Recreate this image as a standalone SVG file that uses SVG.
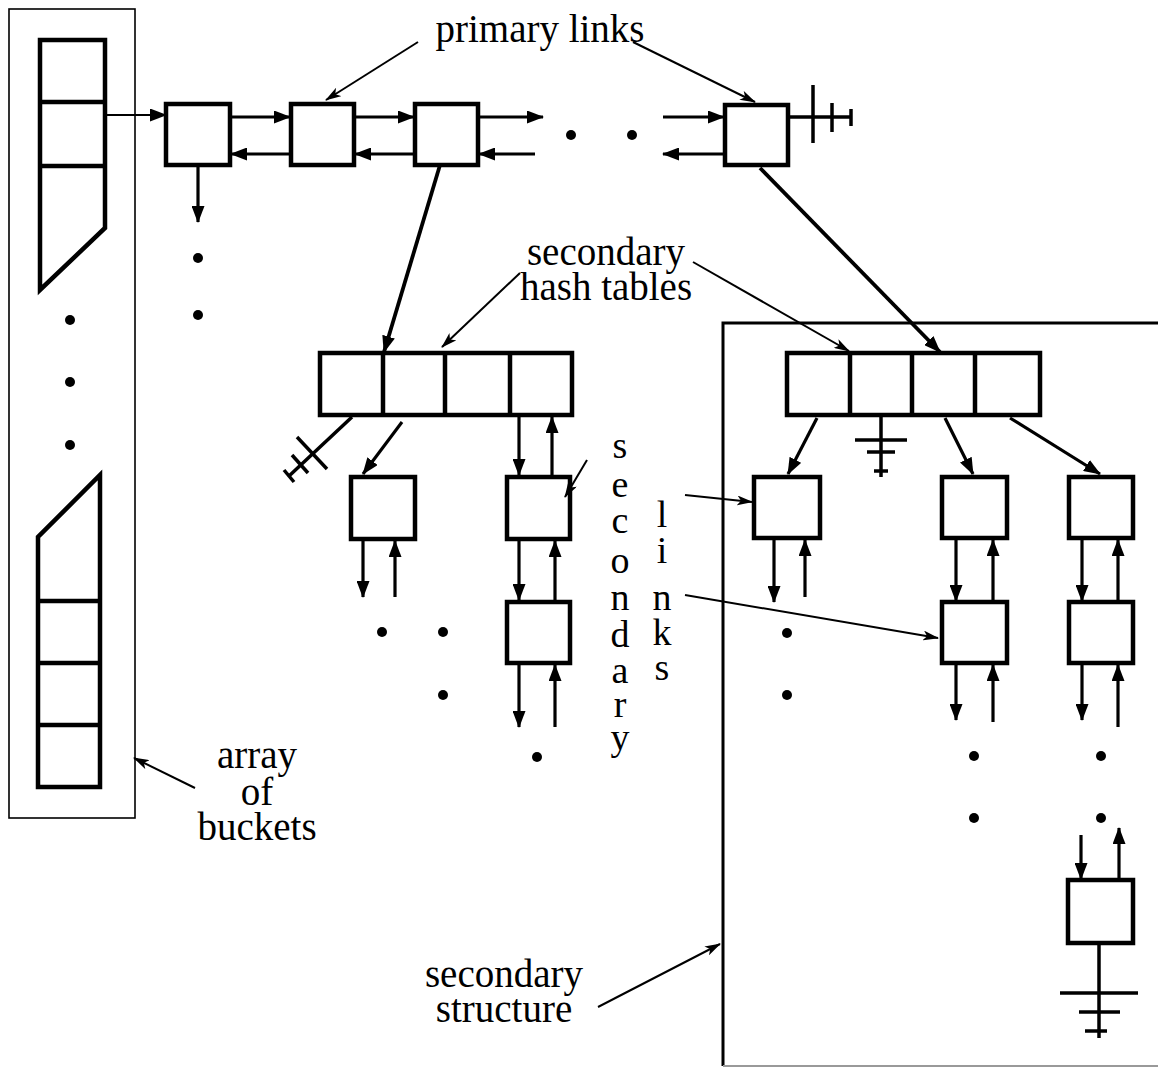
<svg xmlns="http://www.w3.org/2000/svg" width="1158" height="1067" viewBox="0 0 1158 1067">
<style>
.box{fill:#fff;stroke:#000;stroke-width:4.5}
.cell{stroke:#000;stroke-width:4.5;fill:none}
.arr{stroke:#000;stroke-width:3.2;fill:none;marker-end:url(#ah)}
.thin{stroke:#000;stroke-width:2;fill:none;marker-end:url(#lh)}
.ln{stroke:#000;stroke-width:3.5;fill:none}
.dot{fill:#000}
.lbl{font-family:"Liberation Serif","Times New Roman",serif;font-size:39px;fill:#000;text-anchor:middle}
.vl{font-family:"Liberation Serif","Times New Roman",serif;font-size:38px;fill:#000;text-anchor:middle}
</style>
<defs>
<marker id="ah" markerUnits="userSpaceOnUse" markerWidth="17" markerHeight="13" refX="16" refY="6.5" orient="auto">
<path d="M0,0 L17,6.5 L0,13 z" fill="#000"/>
</marker>
<marker id="lh" markerUnits="userSpaceOnUse" markerWidth="16" markerHeight="10" refX="15" refY="5" orient="auto">
<path d="M0,0 L16,5 L0,10 L4,5 z" fill="#000"/>
</marker>
</defs>
<rect width="1158" height="1067" fill="#fff"/>

<g id="array-of-buckets">
<rect x="9" y="9" width="126" height="809" fill="none" stroke="#000" stroke-width="1.6"/>
<path class="cell" d="M40,40 H105 V228 L40,290 Z"/>
<line class="cell" x1="40" y1="102" x2="105" y2="102"/>
<line class="cell" x1="40" y1="166" x2="105" y2="166"/>
<path class="cell" d="M100,475 V787 H38 V537 Z"/>
<line class="cell" x1="38" y1="601" x2="100" y2="601"/>
<line class="cell" x1="38" y1="663" x2="100" y2="663"/>
<line class="cell" x1="38" y1="725" x2="100" y2="725"/>
<circle class="dot" cx="70" cy="320" r="5"/>
<circle class="dot" cx="70" cy="382" r="5"/>
<circle class="dot" cx="70" cy="445" r="5"/>
</g>

<g id="p1"><rect class="box" x="166" y="104" width="64" height="61"/></g>
<g id="p2"><rect class="box" x="291" y="104" width="63" height="61"/></g>
<g id="p3"><rect class="box" x="415" y="104" width="63" height="61"/></g>
<g id="p4"><rect class="box" x="725" y="105" width="63" height="60"/></g>

<g id="hash1">
<rect class="box" x="320" y="353" width="252" height="62"/>
<line class="cell" x1="383" y1="353" x2="383" y2="415"/>
<line class="cell" x1="445" y1="353" x2="445" y2="415"/>
<line class="cell" x1="510" y1="353" x2="510" y2="415"/>
</g>
<g id="hash2">
<rect class="box" x="787" y="353" width="253" height="62"/>
<line class="cell" x1="850" y1="353" x2="850" y2="415"/>
<line class="cell" x1="912" y1="353" x2="912" y2="415"/>
<line class="cell" x1="975" y1="353" x2="975" y2="415"/>
</g>

<g id="nA"><rect class="box" x="351" y="477" width="64" height="62"/></g>
<g id="nB"><rect class="box" x="507" y="477" width="63" height="62"/></g>
<g id="nC"><rect class="box" x="507" y="602" width="63" height="61"/></g>
<g id="nD"><rect class="box" x="754" y="477" width="66" height="61"/></g>
<g id="nE"><rect class="box" x="942" y="477" width="65" height="61"/></g>
<g id="nF"><rect class="box" x="942" y="602" width="65" height="61"/></g>
<g id="nG"><rect class="box" x="1069" y="477" width="64" height="61"/></g>
<g id="nH"><rect class="box" x="1069" y="602" width="64" height="61"/></g>
<g id="nI"><rect class="box" x="1068" y="880" width="65" height="63"/></g>

<g id="secondary-structure">
<path d="M1158,323 H723 V1066" fill="none" stroke="#000" stroke-width="3"/>
<line x1="723" y1="1066" x2="1158" y2="1066" stroke="#999" stroke-width="2"/>
</g>

<g id="connectors">
<line class="thin" x1="105" y1="115" x2="166" y2="115" style="marker-end:url(#ah)"/>
<line class="arr" x1="230" y1="117" x2="290" y2="117"/>
<line class="arr" x1="291" y1="154" x2="231" y2="154"/>
<line class="arr" x1="354" y1="117" x2="414" y2="117"/>
<line class="arr" x1="415" y1="154" x2="355" y2="154"/>
<line class="arr" x1="478" y1="117" x2="543" y2="117"/>
<line class="arr" x1="535" y1="154" x2="479" y2="154"/>
<line class="arr" x1="663" y1="117" x2="724" y2="117"/>
<line class="arr" x1="725" y1="154" x2="663" y2="154"/>
<line class="arr" x1="198" y1="165" x2="198" y2="222"/>
<circle class="dot" cx="571" cy="135" r="5"/>
<circle class="dot" cx="632" cy="135" r="5"/>
<circle class="dot" cx="198" cy="258" r="5"/>
<circle class="dot" cx="198" cy="315" r="5"/>

<line class="ln" x1="788" y1="117" x2="852" y2="117"/>
<line class="ln" x1="813" y1="85" x2="813" y2="143"/>
<line class="ln" x1="832" y1="103" x2="832" y2="132"/>
<line class="ln" x1="851" y1="109" x2="851" y2="126"/>

<line class="arr" x1="440" y1="165" x2="384" y2="352" style="stroke-width:3.8"/>
<line class="arr" x1="760" y1="168" x2="940" y2="352" style="stroke-width:3.8"/>

<line class="ln" x1="352" y1="417" x2="289" y2="476"/>
<line class="ln" x1="297" y1="437" x2="327" y2="469"/>
<line class="ln" x1="292" y1="455" x2="308" y2="473"/>
<line class="ln" x1="284" y1="470" x2="294" y2="482"/>

<line class="arr" x1="402" y1="422" x2="363" y2="474"/>
<line class="arr" x1="363" y1="539" x2="363" y2="597"/>
<line class="arr" x1="395" y1="597" x2="395" y2="541"/>
<circle class="dot" cx="382" cy="632" r="5"/>
<circle class="dot" cx="443" cy="632" r="5"/>
<circle class="dot" cx="443" cy="695" r="5"/>

<line class="arr" x1="519" y1="415" x2="519" y2="475"/>
<line class="arr" x1="552" y1="475" x2="552" y2="417"/>
<line class="arr" x1="519" y1="539" x2="519" y2="600"/>
<line class="arr" x1="555" y1="600" x2="555" y2="541"/>
<line class="arr" x1="519" y1="663" x2="519" y2="727"/>
<line class="arr" x1="555" y1="727" x2="555" y2="665"/>
<circle class="dot" cx="537" cy="757" r="5"/>

<line class="arr" x1="817" y1="418" x2="788" y2="474"/>
<line class="arr" x1="774" y1="538" x2="774" y2="602"/>
<line class="arr" x1="805" y1="597" x2="805" y2="540"/>
<circle class="dot" cx="787" cy="633" r="5"/>
<circle class="dot" cx="787" cy="695" r="5"/>

<line class="ln" x1="881" y1="415" x2="881" y2="477"/>
<line class="ln" x1="855" y1="440" x2="907" y2="440"/>
<line class="ln" x1="867" y1="452" x2="895" y2="452"/>
<line class="ln" x1="874" y1="471" x2="888" y2="471"/>

<line class="arr" x1="945" y1="418" x2="973" y2="474"/>
<line class="arr" x1="956" y1="538" x2="956" y2="601"/>
<line class="arr" x1="993" y1="601" x2="993" y2="540"/>
<line class="arr" x1="956" y1="663" x2="956" y2="720"/>
<line class="arr" x1="993" y1="722" x2="993" y2="665"/>

<line class="arr" x1="1010" y1="418" x2="1100" y2="474"/>
<line class="arr" x1="1082" y1="538" x2="1082" y2="601"/>
<line class="arr" x1="1118" y1="601" x2="1118" y2="540"/>
<line class="arr" x1="1082" y1="663" x2="1082" y2="720"/>
<line class="arr" x1="1118" y1="727" x2="1118" y2="665"/>

<circle class="dot" cx="974" cy="756" r="5"/>
<circle class="dot" cx="974" cy="818" r="5"/>
<circle class="dot" cx="1101" cy="756" r="5"/>
<circle class="dot" cx="1101" cy="818" r="5"/>

<line class="arr" x1="1081" y1="835" x2="1081" y2="879"/>
<line class="arr" x1="1119" y1="880" x2="1119" y2="828"/>
<line class="ln" x1="1099" y1="943" x2="1099" y2="1038"/>
<line class="ln" x1="1060" y1="993" x2="1138" y2="993"/>
<line class="ln" x1="1079" y1="1012" x2="1120" y2="1012"/>
<line class="ln" x1="1085" y1="1031" x2="1107" y2="1031"/>

<line class="thin" x1="418" y1="42" x2="326" y2="100"/>
<line class="thin" x1="633" y1="42" x2="755" y2="102"/>
<line class="thin" x1="520" y1="273" x2="442" y2="347"/>
<line class="thin" x1="693" y1="262" x2="849" y2="351"/>
<line class="thin" x1="587" y1="460" x2="565" y2="497"/>
<line class="thin" x1="685" y1="495" x2="752" y2="502"/>
<line class="thin" x1="685" y1="595" x2="938" y2="638"/>
<line class="thin" x1="195" y1="788" x2="134" y2="758"/>
<line class="thin" x1="598" y1="1007" x2="720" y2="944"/>
</g>

<g id="labels">
<text class="lbl" x="540" y="42">primary links</text>
<text class="lbl"><tspan x="606" y="265">secondary</tspan><tspan x="606" y="300">hash tables</tspan></text>
<text class="lbl"><tspan x="257" y="768">array</tspan><tspan x="257" y="805">of</tspan><tspan x="257" y="840">buckets</tspan></text>
<text class="lbl"><tspan x="504" y="987">secondary</tspan><tspan x="504" y="1022">structure</tspan></text>
<text class="vl"><tspan x="620" y="458">s</tspan><tspan x="620" y="497">e</tspan><tspan x="620" y="533">c</tspan><tspan x="620" y="573">o</tspan><tspan x="620" y="610">n</tspan><tspan x="620" y="647">d</tspan><tspan x="620" y="683">a</tspan><tspan x="620" y="717">r</tspan><tspan x="620" y="750">y</tspan></text>
<text class="vl"><tspan x="662" y="527">l</tspan><tspan x="662" y="563">i</tspan><tspan x="662" y="610">n</tspan><tspan x="662" y="645">k</tspan><tspan x="662" y="680">s</tspan></text>
</g>
</svg>
